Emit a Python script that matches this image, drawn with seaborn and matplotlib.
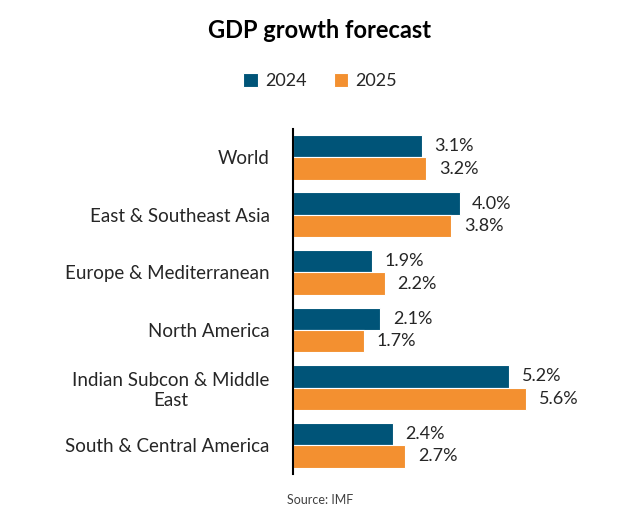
import matplotlib
matplotlib.use("Agg")
import matplotlib.pyplot as plt
import seaborn as sns
import pandas as pd

regions = ["World", "East & Southeast Asia", "Europe & Mediterranean", "North America",
           "Indian Subcon & Middle\nEast", "South & Central America"]
growth_2024 = [3.1, 4.0, 1.9, 2.1, 5.2, 2.4]
growth_2025 = [3.2, 3.8, 2.2, 1.7, 5.6, 2.7]
years = ["2024", "2025"]
colors = ["#005478", "#F39030"]

df = pd.DataFrame({
    "region": regions * 2,
    "value": growth_2024 + growth_2025,
    "year": [years[0]] * len(regions) + [years[1]] * len(regions),
})

sns.set_theme(style="white")
plt.rcParams['font.family'] = ['Lato', 'DejaVu Sans']

fig = plt.figure(figsize=(6.4, 5.14), dpi=100)
ax = fig.add_axes([0.458, 0.078, 0.52, 0.672])
sns.barplot(data=df, y="region", x="value", hue="year", palette=colors,
            saturation=1, orient="h", width=0.78, ax=ax, edgecolor="white", linewidth=0.8)

for cont in ax.containers:
    ax.bar_label(cont, labels=[f"{v:.1f}%" for v in cont.datavalues],
                 padding=9, fontsize=13, color="#262626")

ax.set_xlim(0, 8)
ax.set_ylim(5.5, -0.5)
ax.set_xlabel("")
ax.set_ylabel("")
ax.set_xticks([])
for s in ["top", "right", "bottom"]:
    ax.spines[s].set_visible(False)
ax.spines["left"].set_color("black")
ax.spines["left"].set_linewidth(1.5)
ax.tick_params(axis="y", length=0, pad=17, labelsize=13.5, labelcolor="#262626")
for t in ax.get_yticklabels():
    t.set_multialignment("center")

ax.legend(loc="center", bbox_to_anchor=(0.5, 0.842), bbox_transform=fig.transFigure,
          ncol=2, frameon=False, fontsize=13, handlelength=0.8, handleheight=0.8,
          columnspacing=1.5, handletextpad=0.4)

fig.text(0.5, 0.94, "GDP growth forecast", ha="center", va="center",
         fontsize=17, fontweight="bold", color="black")
fig.text(0.5, 0.028, "Source: IMF", ha="center", va="center", fontsize=9, color="#404040")

fig.savefig("out.png", dpi=100)
